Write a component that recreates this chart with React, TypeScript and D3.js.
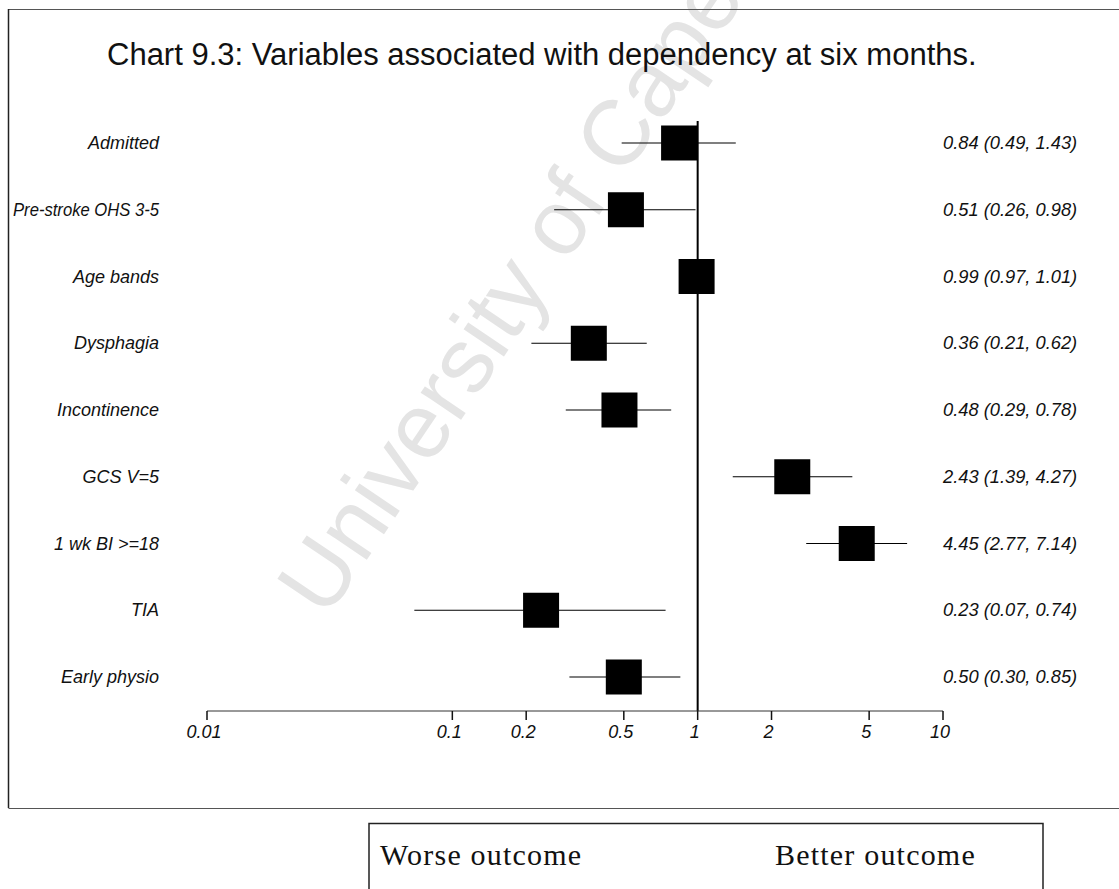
import React from "react";
import * as d3 from "d3";

// forest plot data
const variables = [
  "Admitted",
  "Pre-stroke OHS 3-5",
  "Age bands",
  "Dysphagia",
  "Incontinence",
  "GCS V=5",
  "1 wk BI >=18",
  "TIA",
  "Early physio"
];
const oddsRatios = [0.84, 0.51, 0.99, 0.36, 0.48, 2.43, 4.45, 0.23, 0.5];
const lowerCI = [0.49, 0.26, 0.97, 0.21, 0.29, 1.39, 2.77, 0.07, 0.3];
const upperCI = [1.43, 0.98, 1.01, 0.62, 0.78, 4.27, 7.14, 0.74, 0.85];
const tickValues = [0.01, 0.1, 0.2, 0.5, 1, 2, 5, 10];
const tickLabels = ["0.01", "0.1", "0.2", "0.5", "1", "2", "5", "10"];

const W = 1119;
const H = 889;
const sans = "'Liberation Sans', Arial, Helvetica, sans-serif";
const serif = "'Liberation Serif', 'Times New Roman', serif";

// width of a label, so long ones can be squeezed into the left margin
const ctx = document.createElement("canvas").getContext("2d");
const measure = (s: string, font: string) => {
  if (!ctx) return 0;
  ctx.font = font;
  return ctx.measureText(s).width;
};

const App: React.FC = () => {
  const x = d3.scaleLog().domain([0.01, 10]).range([207, 943]);
  const y = d3.scalePoint<string>().domain(variables).range([143, 677]);
  const axisY = 711;
  const boxW = 36;
  const boxH = 35;
  const labelRight = 159;
  const labelMax = 146;

  const fmt = d3.format(".2f");

  return (
    <svg
      width={W}
      height={H}
      style={{ position: "absolute", left: 0, top: 0, background: "#fff" }}
    >
      {/* watermark */}
      <text
        transform="translate(326,620) rotate(-56)"
        fontFamily={sans}
        fontSize={92}
        fill="#e4e4e4"
      >
        University of Cape Town
      </text>

      {/* frame */}
      <line x1={8.5} x2={W} y1={9.5} y2={9.5} stroke="#555" strokeWidth={1} />
      <line x1={8.5} x2={8.5} y1={9} y2={808} stroke="#222" strokeWidth={1.5} />
      <line x1={8.5} x2={W} y1={808.5} y2={808.5} stroke="#555" strokeWidth={1} />

      <text x={107} y={65} fontFamily={sans} fontSize={31} fill="#111">
        Chart 9.3: Variables associated with dependency at six months.
      </text>

      {/* line of no effect */}
      <line
        x1={x(1)}
        x2={x(1)}
        y1={121}
        y2={axisY}
        stroke="#000"
        strokeWidth={2}
      />

      {variables.map((v, i) => {
        const cy = y(v)!;
        const w = measure(v, `italic 18px ${sans}`);
        const squeeze = w > labelMax;
        return (
          <g key={v}>
            <text
              x={labelRight}
              y={cy + 6}
              textAnchor="end"
              fontFamily={sans}
              fontStyle="italic"
              fontSize={18}
              fill="#111"
              textLength={squeeze ? labelMax : undefined}
              lengthAdjust={squeeze ? "spacingAndGlyphs" : undefined}
            >
              {v}
            </text>
            <line
              x1={x(lowerCI[i])}
              x2={x(upperCI[i])}
              y1={cy}
              y2={cy}
              stroke="#000"
              strokeWidth={1.2}
            />
            <rect
              x={x(oddsRatios[i]) - boxW / 2}
              y={cy - boxH / 2}
              width={boxW}
              height={boxH}
              fill="#000"
            />
            <text
              x={943}
              y={cy + 6}
              fontFamily={sans}
              fontStyle="italic"
              fontSize={18.3}
              fill="#111"
            >
              {`${fmt(oddsRatios[i])} (${fmt(lowerCI[i])}, ${fmt(upperCI[i])})`}
            </text>
          </g>
        );
      })}

      {/* x axis */}
      <line x1={x(0.01)} x2={x(10)} y1={axisY} y2={axisY} stroke="#333" strokeWidth={1} />
      {tickValues.map((t, i) => (
        <g key={t}>
          <line x1={x(t)} x2={x(t)} y1={axisY} y2={axisY + 9} stroke="#111" strokeWidth={1.5} />
          <text
            x={x(t) - 3}
            y={axisY + 27}
            textAnchor="middle"
            fontFamily={sans}
            fontStyle="italic"
            fontSize={18}
            fill="#111"
          >
            {tickLabels[i]}
          </text>
        </g>
      ))}

      {/* legend box */}
      <path d={`M369,${H + 2} V823.5 H1043 V${H + 2}`} fill="none" stroke="#222" strokeWidth={1.5} />
      <text x={380} y={865} fontFamily={serif} fontSize={30} letterSpacing={1.2} fill="#111">
        Worse outcome
      </text>
      <text x={775} y={865} fontFamily={serif} fontSize={30} letterSpacing={1.2} fill="#111">
        Better outcome
      </text>
    </svg>
  );
};

export default App;
